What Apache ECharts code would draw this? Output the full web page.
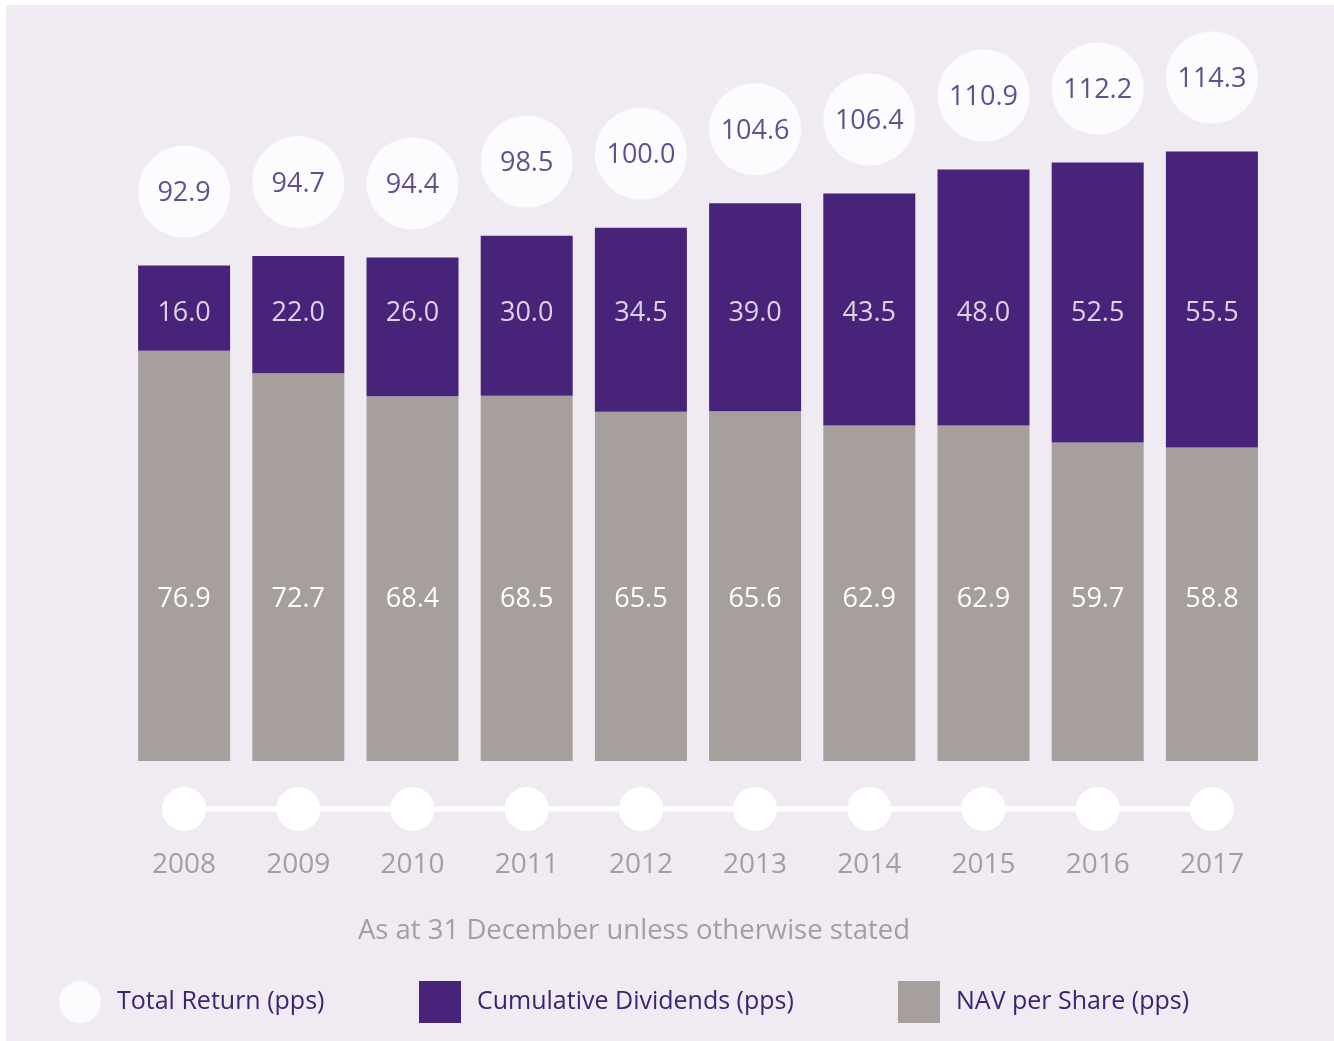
<!DOCTYPE html>
<html><head><meta charset="utf-8">
<script src="https://cdn.jsdelivr.net/npm/echarts@6/dist/echarts.min.js"></script>
<style>html,body{margin:0;padding:0;background:#fff}#c{width:1334px;height:1041px}</style>
</head><body><div id="c"></div>
<script>
const years = ['2008','2009','2010','2011','2012','2013','2014','2015','2016','2017'];
const navPerShare = [76.9,72.7,68.4,68.5,65.5,65.6,62.9,62.9,59.7,58.8];
const cumulativeDividends = [16.0,22.0,26.0,30.0,34.5,39.0,43.5,48.0,52.5,55.5];
const totalReturn = [92.9,94.7,94.4,98.5,100.0,104.6,106.4,110.9,112.2,114.3];
const footnote = 'As at 31 December unless otherwise stated';

const BG = '#f0eaf2', PURPLE = '#48237a', GREY = '#a69f9e', DARK = '#3a2570', LIGHTTXT = '#a39ea2';
const FONT = "'Open Sans', sans-serif";
const DIV_LABEL_LEVEL = 83.9;   // fixed height of the dividend labels (axis units)
const TIMELINE_LEVEL = 0.5;

const fmt = v => Number(v).toFixed(1);

const chart = echarts.init(document.getElementById('c'), null, {renderer: 'canvas'});
const legendBase = {
  top: 976, itemWidth: 42, itemHeight: 42, selectedMode: false, orient: 'horizontal',
  textStyle: {color: DARK, fontSize: 25, fontFamily: FONT, padding: [0, 0, 0, 11]}
};
chart.setOption({
  backgroundColor: BG,
  animation: false,
  grid: [
    {left: 127, right: 65, top: 121, height: 640},
    {left: 127, right: 65, top: 789, height: 40}
  ],
  xAxis: [
    {type: 'category', data: years, gridIndex: 0, show: false},
    {type: 'category', data: years, gridIndex: 1,
     axisLine: {show: false}, axisTick: {show: false},
     axisLabel: {color: LIGHTTXT, fontSize: 28, fontFamily: FONT, margin: 22}}
  ],
  yAxis: [
    {type: 'value', min: 0, max: 120, gridIndex: 0, show: false},
    {type: 'value', min: 0, max: 1, gridIndex: 1, show: false}
  ],
  legend: [
    Object.assign({left: 54, data: [{name: 'Total Return (pps)', icon: 'circle'}]}, legendBase),
    Object.assign({left: 414, data: [{name: 'Cumulative Dividends (pps)', icon: 'rect'}]}, legendBase),
    Object.assign({left: 893, data: [{name: 'NAV per Share (pps)', icon: 'rect'}]}, legendBase)
  ],
  graphic: [
    {type: 'rect', shape: {x: 0, y: 0, width: 1334, height: 5}, style: {fill: '#fff'}, silent: true},
    {type: 'rect', shape: {x: 0, y: 0, width: 6, height: 1041}, style: {fill: '#fff'}, silent: true},
    {type: 'text', x: 634, y: 931, style: {text: footnote, fill: LIGHTTXT, font: "27.5px 'Open Sans', sans-serif", textAlign: 'center', textVerticalAlign: 'middle'}, silent: true}
  ],
  series: [
    {name: 'NAV per Share (pps)', type: 'bar', stack: 'a', data: navPerShare, barWidth: 92,
     itemStyle: {color: GREY}, silent: true,
     label: {show: true, position: 'insideBottom', distance: 148, color: '#fff', fontSize: 27, fontFamily: FONT, formatter: p => fmt(p.value)}},
    {name: 'Cumulative Dividends (pps)', type: 'bar', stack: 'a', data: cumulativeDividends, barWidth: 92,
     itemStyle: {color: PURPLE}, silent: true},
    {name: 'divLabels', type: 'scatter', data: cumulativeDividends.map((d, i) => [i, DIV_LABEL_LEVEL]),
     symbolSize: 1, itemStyle: {color: 'rgba(0,0,0,0)'}, silent: true, z: 5,
     label: {show: true, position: 'inside', color: '#fff', fontSize: 27, fontFamily: FONT, formatter: p => fmt(cumulativeDividends[p.dataIndex])}},
    {name: 'Total Return (pps)', type: 'scatter', data: totalReturn, symbol: 'circle', symbolSize: 92, symbolOffset: [0, -74],
     itemStyle: {color: '#ffffff'}, silent: true, z: 6,
     label: {show: true, position: 'inside', color: DARK, fontSize: 27, fontFamily: FONT, offset: [0, 2], formatter: p => fmt(p.value)}},
    {name: 'timeline', type: 'line', xAxisIndex: 1, yAxisIndex: 1, data: years.map(() => TIMELINE_LEVEL),
     symbol: 'circle', symbolSize: 44, showSymbol: true, itemStyle: {color: '#ffffff'},
     lineStyle: {color: '#ffffff', width: 5}, silent: true}
  ]
});
</script></body></html>
